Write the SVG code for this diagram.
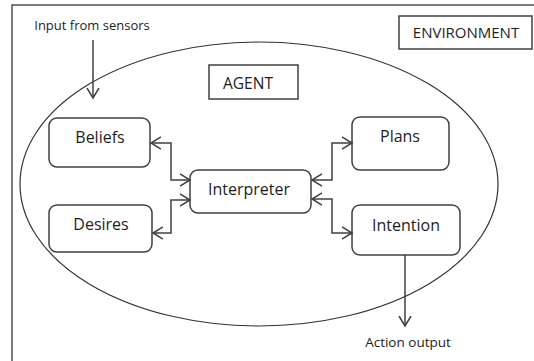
<svg xmlns="http://www.w3.org/2000/svg" width="534" height="361" viewBox="0 0 534 361">
  <style>
    .t { font-family: "Open Sans", "Liberation Sans", sans-serif; fill: #1e1e1e; text-anchor: middle; }
    .box { fill: #ffffff; stroke: #404040; stroke-width: 1.5; }
    .rbox { fill: #ffffff; stroke: #404040; stroke-width: 1.5; }
    .ln { fill: none; stroke: #404040; stroke-width: 1.5; }
  </style>
  <defs>
    <marker id="arr" markerWidth="12" markerHeight="14" refX="10" refY="7" orient="auto-start-reverse" markerUnits="userSpaceOnUse">
      <path d="M0,1 L10,7 L0,13" fill="none" stroke="#404040" stroke-width="1.5"/>
    </marker>
  </defs>
  <rect width="534" height="361" fill="#ffffff"/>
  <g id="frame">
    <path d="M12,361 V5 H534" fill="none" stroke="#505050" stroke-width="1.5"/>
  </g>
  <g id="agent-ellipse">
    <ellipse cx="259" cy="184" rx="239" ry="142" fill="none" stroke="#333333" stroke-width="1.2"/>
  </g>
  <g id="environment">
    <rect class="box" x="399" y="16" width="133" height="33"/>
    <text class="t" x="466" y="38" font-size="15">ENVIRONMENT</text>
  </g>
  <g id="agent">
    <rect class="box" x="209" y="65" width="89" height="34"/>
    <text class="t" x="248" y="89" font-size="15.5">AGENT</text>
  </g>
  <g id="input-label">
    <text class="t" x="92" y="30" font-size="13">Input from sensors</text>
  </g>
  <g id="beliefs">
    <rect class="rbox" x="49" y="118" width="101" height="49" rx="8"/>
    <text class="t" x="100" y="143" font-size="16">Beliefs</text>
  </g>
  <g id="desires">
    <rect class="rbox" x="49" y="205" width="103" height="47" rx="8"/>
    <text class="t" x="101" y="230" font-size="16">Desires</text>
  </g>
  <g id="interpreter">
    <rect class="rbox" x="190" y="170" width="121" height="43" rx="8"/>
    <text class="t" x="249" y="195" font-size="16">Interpreter</text>
  </g>
  <g id="plans">
    <rect class="rbox" x="352" y="117" width="97" height="53" rx="8"/>
    <text class="t" x="400" y="142" font-size="16">Plans</text>
  </g>
  <g id="intention">
    <rect class="rbox" x="352" y="205" width="108" height="50" rx="8"/>
    <text class="t" x="406" y="231" font-size="16">Intention</text>
  </g>
  <g id="action-label">
    <text class="t" x="408" y="347" font-size="13.5">Action output</text>
  </g>
  <g id="connectors">
    <path class="ln" d="M93,40 V98" marker-end="url(#arr)"/>
    <path class="ln" d="M151,143 H171 V180 H190" marker-start="url(#arr)" marker-end="url(#arr)"/>
    <path class="ln" d="M153,233 H171 V200 H190" marker-start="url(#arr)" marker-end="url(#arr)"/>
    <path class="ln" d="M312,180 H332 V143 H352" marker-start="url(#arr)" marker-end="url(#arr)"/>
    <path class="ln" d="M312,199 H332 V233 H352" marker-start="url(#arr)" marker-end="url(#arr)"/>
    <path class="ln" d="M405,255 V326" marker-end="url(#arr)"/>
  </g>
</svg>
